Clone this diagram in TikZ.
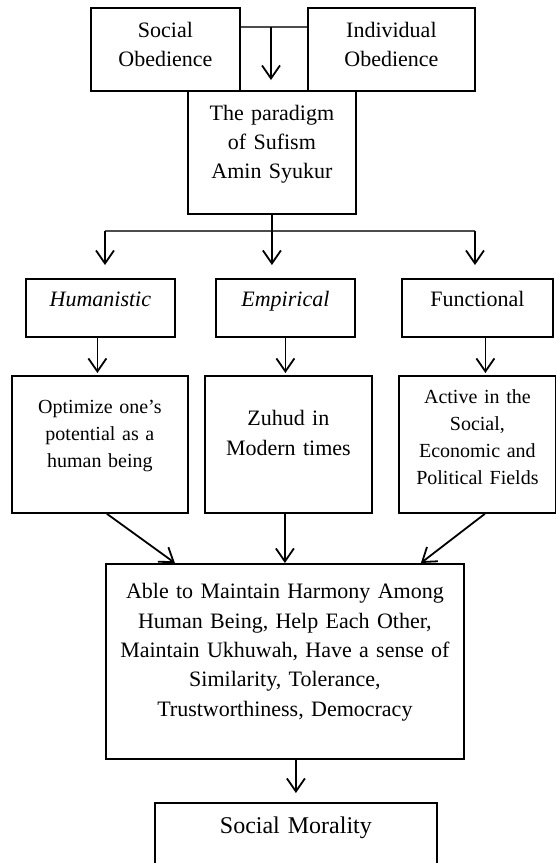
\documentclass[tikz,border=0pt]{standalone}
\usepackage{fontspec}
\setmainfont{Liberation Serif}
\usetikzlibrary{arrows.meta}

\begin{document}
\begin{tikzpicture}[x=1pt, y=-1pt, font=\fontsize{22pt}{29pt}\selectfont]

\tikzset{block/.style = {draw, line width=1.8pt, inner sep=0pt, align=center, anchor=north west}}
\tikzset{boxdim/.style n args = {3}{text width=#1pt, text height=#2pt, text depth=#3pt}}
\tikzset{arrow/.style = {-{Straight Barb[length=13pt,width=18pt]}, line width=1.8pt}}
\tikzset{link/.style = {line width=1.3pt, black!70}}
\tikzset{small/.style = {font=\fontsize{20pt}{27pt}\selectfont}}

\useasboundingbox (0,0) rectangle (556,863);

%boxes
\node[block, boxdim={149}{30}{53}] (so) at (90,7) {Social\\Obedience};
\node[block, boxdim={167}{30}{53}] (io) at (307,7) {Individual\\Obedience};
\node[block, boxdim={168}{30}{93}] (par) at (187,90) {The paradigm\\of Sufism\\Amin Syukur};
\node[block, boxdim={149}{28}{30}] (hu) at (25,278) {\textit{Humanistic}};
\node[block, boxdim={139}{28}{30}] (em) at (215,278) {\textit{Empirical}};
\node[block, boxdim={151}{28}{30}] (fu) at (401,278) {Functional};
\node[block, small, boxdim={176}{38}{99}] (opt) at (11,375) {Optimize one’s\\potential as a\\human being};
\node[block, font=\fontsize{22pt}{30pt}\selectfont, boxdim={167}{50}{87}] (zu) at (204,375) {Zuhud in\\Modern times};
\node[block, small, boxdim={157}{28}{109}] (ac) at (398,375) {Active in the\\Social,\\Economic and\\Political Fields};
\node[block, font=\fontsize{22pt}{29.3pt}\selectfont, boxdim={358}{35}{160}] (big) at (105,563) {Able to Maintain Harmony Among\\Human Being, Help Each Other,\\Maintain Ukhuwah, Have a sense of\\Similarity, Tolerance,\\Trustworthiness, Democracy};
\node[block, font=\fontsize{24pt}{29pt}\selectfont, boxdim={282}{31}{80}] (sm) at (154,802) {Social Morality};

%connectors
\coordinate (tj) at (271,27);
\draw[link] (so.east |- tj) -- (io.west |- tj);
\draw[arrow, shorten >=10pt] (tj) -- (tj |- par.north);

\coordinate (bl) at (105,231);
\coordinate (br) at (475,231);
\draw[link] (bl) -- (br);
\draw[arrow, shorten >=13pt] (par.south) -- (par.south |- hu.north);
\draw[arrow, shorten >=13pt] (bl) -- (bl |- hu.north);
\draw[arrow, shorten >=13pt] (br) -- (br |- fu.north);

\draw[arrow, shorten >=2pt] ([xshift=-3pt]hu.south) -- ([xshift=-3pt]hu.south |- opt.north);
\draw[arrow, shorten >=2pt] (em.south) -- (em.south |- zu.north);
\draw[arrow, shorten >=2pt] ([xshift=8pt]fu.south) -- ([xshift=8pt]fu.south |- ac.north);

\draw[arrow] ([xshift=7pt]opt.south) -- ([xshift=-110pt]big.north);
\draw[arrow] (big.north |- zu.south) -- (big.north);
\draw[arrow] ([xshift=7.5pt]ac.south) -- ([xshift=136pt]big.north);

\draw[arrow, shorten >=9pt] (sm.north |- big.south) -- (sm.north);

\end{tikzpicture}
\end{document}
